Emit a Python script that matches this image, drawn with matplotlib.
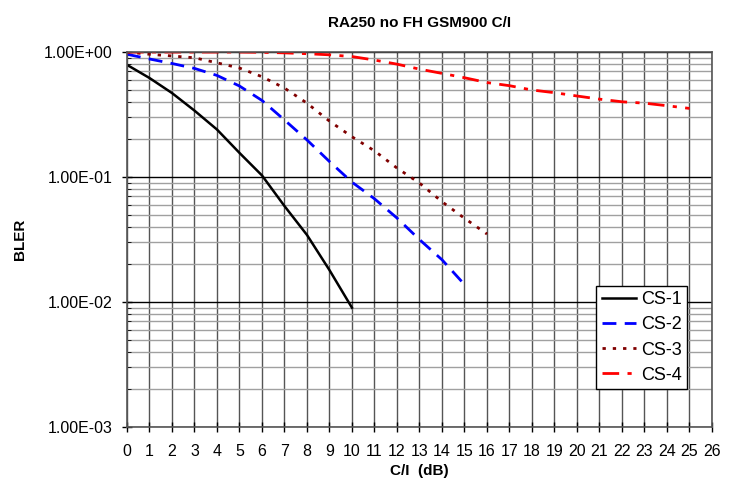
import numpy as np
import matplotlib
matplotlib.use("Agg")
import matplotlib.pyplot as plt
from matplotlib.ticker import FixedLocator, LogLocator, NullFormatter

plt.rcParams['font.family'] = ['Liberation Sans', 'DejaVu Sans']

# BLER vs C/I values
x_cs1 = [0, 1, 2, 3, 4, 5, 6, 7, 8, 9, 10]
bler_cs1 = [0.79, 0.62, 0.47, 0.34, 0.24, 0.156, 0.103, 0.0586, 0.0344, 0.018, 0.0090]

x_cs2 = [0, 1, 2, 3, 4, 5, 6, 7, 8, 9, 10, 11, 12, 13, 14, 15]
bler_cs2 = [0.96, 0.88, 0.81, 0.74, 0.65, 0.535, 0.41, 0.286, 0.198, 0.133,
            0.091, 0.067, 0.047, 0.0316, 0.0218, 0.0138]

x_cs3 = [0, 1, 2, 3, 4, 5, 6, 7, 8, 9, 10, 11, 12, 13, 14, 15, 16]
bler_cs3 = [1.0, 0.96, 0.93, 0.90, 0.82, 0.745, 0.635, 0.515, 0.39, 0.28,
            0.21, 0.162, 0.118, 0.0895, 0.0635, 0.0468, 0.0350]

x_cs4 = [0, 1, 2, 3, 4, 5, 6, 7, 8, 9, 10, 11, 12, 13, 14, 15, 16, 17, 18,
         19, 20, 21, 22, 23, 24, 25]
bler_cs4 = [1.0, 1.0, 1.0, 1.0, 1.0, 1.0, 0.995, 0.985, 0.97, 0.95, 0.92,
            0.863, 0.80, 0.73, 0.675, 0.623, 0.57, 0.538, 0.497, 0.473,
            0.445, 0.42, 0.40, 0.39, 0.372, 0.354]

fig = plt.figure(figsize=(7.31, 4.91), dpi=100)
ax = fig.add_axes([0.1737, 0.1303, 0.8003, 0.7637])

ax.plot(x_cs1, bler_cs1, color='black', lw=1.8, label='CS-1')
ax.plot(x_cs2, bler_cs2, color='#0000ff', lw=2, dashes=(5, 3), label='CS-2')
ax.plot(x_cs3, bler_cs3, color='#800000', lw=2, dashes=(1.2, 2.5), label='CS-3')
ax.plot(x_cs4, bler_cs4, color='#ff0000', lw=2, dashes=(6, 3, 1.5, 3), label='CS-4')

ax.set_yscale('log')
ax.set_xlim(0, 26)
ax.set_ylim(1e-3, 1)
ax.xaxis.set_major_locator(FixedLocator(range(0, 27)))
ax.yaxis.set_major_locator(FixedLocator([1e-3, 1e-2, 1e-1, 1]))
ax.yaxis.set_minor_locator(LogLocator(base=10, subs=np.arange(2, 10)))
ax.yaxis.set_minor_formatter(NullFormatter())
ax.set_yticklabels(['1.00E-03', '1.00E-02', '1.00E-01', '1.00E+00'])

ax.grid(True, which='major', axis='x', color='#555555', lw=1)
ax.grid(True, which='major', axis='y', color='black', lw=1)
ax.grid(True, which='minor', axis='y', color='#a0a0a0', lw=1)
ax.set_axisbelow(True)

ax.tick_params(axis='both', which='major', direction='inout', length=7,
               labelsize=11.5, width=1)
ax.tick_params(axis='x', which='major', pad=9)
ax.tick_params(axis='y', which='major', pad=7)
ax.tick_params(axis='y', which='minor', direction='in', length=3)
for s in ax.spines.values():
    s.set_color('#555555')
    s.set_linewidth(1.2)

ax.set_title('RA250 no FH GSM900 C/I', fontsize=11, fontweight='bold', pad=18)
ax.set_xlabel('C/I  (dB)', fontsize=11, fontweight='bold', labelpad=3)
ax.set_ylabel('BLER', fontsize=11, fontweight='bold', labelpad=12)

leg = ax.legend(loc='lower right', bbox_to_anchor=(0.958, 0.101), fontsize=13,
                fancybox=False, framealpha=1, edgecolor='black',
                borderpad=0.3, labelspacing=0.45, handlelength=1.9,
                handletextpad=0.3, borderaxespad=0)
leg.get_frame().set_linewidth(1)

fig.savefig('out.png', dpi=100)
